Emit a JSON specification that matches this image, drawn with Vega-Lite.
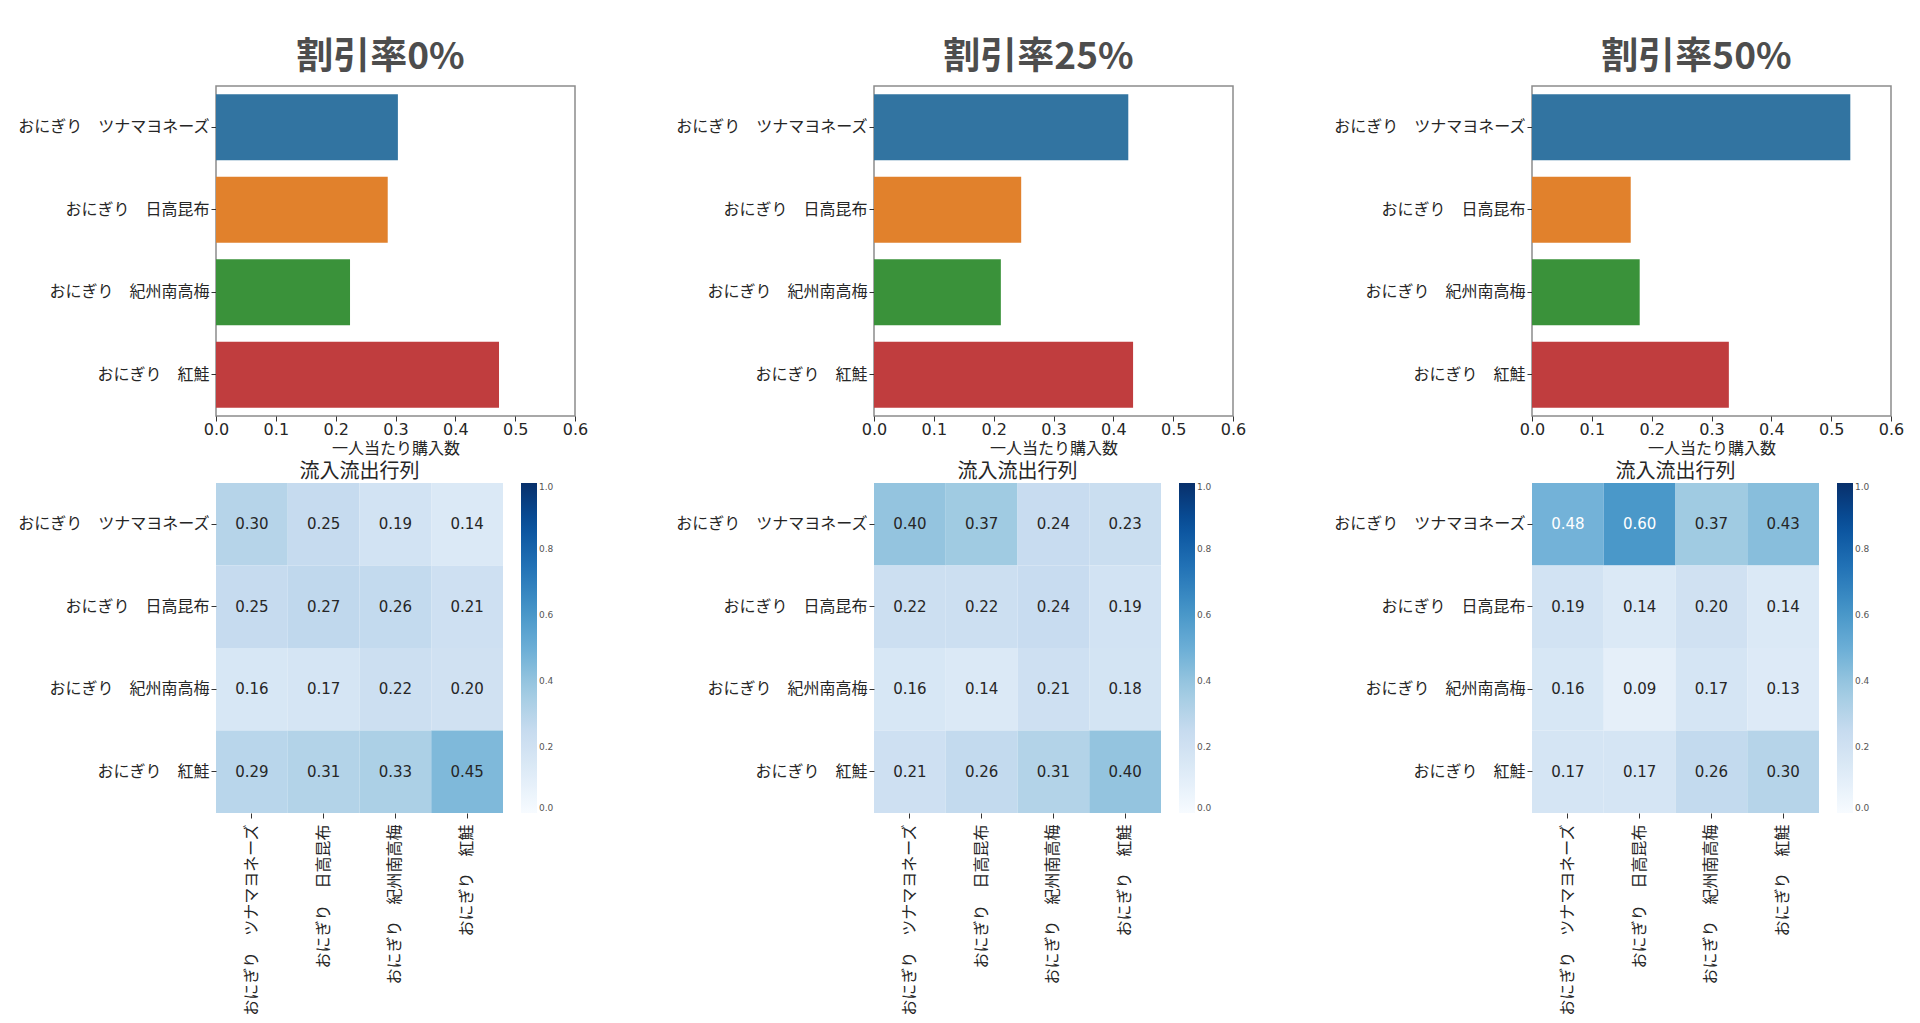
{
  "$schema": "https://vega.github.io/schema/vega-lite/v6.json",
  "padding": {"left": 16, "top": 38, "right": 8, "bottom": 5},
  "background": "white",
  "config": {
    "font": "Noto Sans CJK JP",
    "view": {"stroke": null},
    "axis": {
      "labelFontSize": 16,
      "labelColor": "#262626",
      "labelLimit": 400,
      "labelPadding": 2,
      "labelFlush": false,
      "tickColor": "#333333",
      "tickSize": 5,
      "domain": false,
      "grid": false,
      "titleFontSize": 16,
      "titleFontWeight": "normal",
      "titleColor": "#262626",
      "titlePadding": 3
    },
    "legend": {
      "labelFont": "DejaVu Sans",
      "labelFontSize": 9,
      "labelColor": "#555555",
      "gradientLength": 330,
      "gradientThickness": 16,
      "gradientStrokeWidth": 0,
      "offset": 18
    }
  },
  "datasets": {
    "bars": [
      {"discount": "0%", "item": "おにぎり　ツナマヨネーズ", "value": 0.304},
      {"discount": "0%", "item": "おにぎり　日高昆布", "value": 0.287},
      {"discount": "0%", "item": "おにぎり　紀州南高梅", "value": 0.224},
      {"discount": "0%", "item": "おにぎり　紅鮭", "value": 0.473},
      {"discount": "25%", "item": "おにぎり　ツナマヨネーズ", "value": 0.425},
      {"discount": "25%", "item": "おにぎり　日高昆布", "value": 0.246},
      {"discount": "25%", "item": "おにぎり　紀州南高梅", "value": 0.212},
      {"discount": "25%", "item": "おにぎり　紅鮭", "value": 0.433},
      {"discount": "50%", "item": "おにぎり　ツナマヨネーズ", "value": 0.532},
      {"discount": "50%", "item": "おにぎり　日高昆布", "value": 0.165},
      {"discount": "50%", "item": "おにぎり　紀州南高梅", "value": 0.180},
      {"discount": "50%", "item": "おにぎり　紅鮭", "value": 0.329}
    ],
    "flows": [
      {"discount": "0%", "row": "おにぎり　ツナマヨネーズ", "col": "おにぎり　ツナマヨネーズ", "v": 0.30},
      {"discount": "0%", "row": "おにぎり　ツナマヨネーズ", "col": "おにぎり　日高昆布", "v": 0.25},
      {"discount": "0%", "row": "おにぎり　ツナマヨネーズ", "col": "おにぎり　紀州南高梅", "v": 0.19},
      {"discount": "0%", "row": "おにぎり　ツナマヨネーズ", "col": "おにぎり　紅鮭", "v": 0.14},
      {"discount": "0%", "row": "おにぎり　日高昆布", "col": "おにぎり　ツナマヨネーズ", "v": 0.25},
      {"discount": "0%", "row": "おにぎり　日高昆布", "col": "おにぎり　日高昆布", "v": 0.27},
      {"discount": "0%", "row": "おにぎり　日高昆布", "col": "おにぎり　紀州南高梅", "v": 0.26},
      {"discount": "0%", "row": "おにぎり　日高昆布", "col": "おにぎり　紅鮭", "v": 0.21},
      {"discount": "0%", "row": "おにぎり　紀州南高梅", "col": "おにぎり　ツナマヨネーズ", "v": 0.16},
      {"discount": "0%", "row": "おにぎり　紀州南高梅", "col": "おにぎり　日高昆布", "v": 0.17},
      {"discount": "0%", "row": "おにぎり　紀州南高梅", "col": "おにぎり　紀州南高梅", "v": 0.22},
      {"discount": "0%", "row": "おにぎり　紀州南高梅", "col": "おにぎり　紅鮭", "v": 0.20},
      {"discount": "0%", "row": "おにぎり　紅鮭", "col": "おにぎり　ツナマヨネーズ", "v": 0.29},
      {"discount": "0%", "row": "おにぎり　紅鮭", "col": "おにぎり　日高昆布", "v": 0.31},
      {"discount": "0%", "row": "おにぎり　紅鮭", "col": "おにぎり　紀州南高梅", "v": 0.33},
      {"discount": "0%", "row": "おにぎり　紅鮭", "col": "おにぎり　紅鮭", "v": 0.45},
      {"discount": "25%", "row": "おにぎり　ツナマヨネーズ", "col": "おにぎり　ツナマヨネーズ", "v": 0.40},
      {"discount": "25%", "row": "おにぎり　ツナマヨネーズ", "col": "おにぎり　日高昆布", "v": 0.37},
      {"discount": "25%", "row": "おにぎり　ツナマヨネーズ", "col": "おにぎり　紀州南高梅", "v": 0.24},
      {"discount": "25%", "row": "おにぎり　ツナマヨネーズ", "col": "おにぎり　紅鮭", "v": 0.23},
      {"discount": "25%", "row": "おにぎり　日高昆布", "col": "おにぎり　ツナマヨネーズ", "v": 0.22},
      {"discount": "25%", "row": "おにぎり　日高昆布", "col": "おにぎり　日高昆布", "v": 0.22},
      {"discount": "25%", "row": "おにぎり　日高昆布", "col": "おにぎり　紀州南高梅", "v": 0.24},
      {"discount": "25%", "row": "おにぎり　日高昆布", "col": "おにぎり　紅鮭", "v": 0.19},
      {"discount": "25%", "row": "おにぎり　紀州南高梅", "col": "おにぎり　ツナマヨネーズ", "v": 0.16},
      {"discount": "25%", "row": "おにぎり　紀州南高梅", "col": "おにぎり　日高昆布", "v": 0.14},
      {"discount": "25%", "row": "おにぎり　紀州南高梅", "col": "おにぎり　紀州南高梅", "v": 0.21},
      {"discount": "25%", "row": "おにぎり　紀州南高梅", "col": "おにぎり　紅鮭", "v": 0.18},
      {"discount": "25%", "row": "おにぎり　紅鮭", "col": "おにぎり　ツナマヨネーズ", "v": 0.21},
      {"discount": "25%", "row": "おにぎり　紅鮭", "col": "おにぎり　日高昆布", "v": 0.26},
      {"discount": "25%", "row": "おにぎり　紅鮭", "col": "おにぎり　紀州南高梅", "v": 0.31},
      {"discount": "25%", "row": "おにぎり　紅鮭", "col": "おにぎり　紅鮭", "v": 0.40},
      {"discount": "50%", "row": "おにぎり　ツナマヨネーズ", "col": "おにぎり　ツナマヨネーズ", "v": 0.48},
      {"discount": "50%", "row": "おにぎり　ツナマヨネーズ", "col": "おにぎり　日高昆布", "v": 0.60},
      {"discount": "50%", "row": "おにぎり　ツナマヨネーズ", "col": "おにぎり　紀州南高梅", "v": 0.37},
      {"discount": "50%", "row": "おにぎり　ツナマヨネーズ", "col": "おにぎり　紅鮭", "v": 0.43},
      {"discount": "50%", "row": "おにぎり　日高昆布", "col": "おにぎり　ツナマヨネーズ", "v": 0.19},
      {"discount": "50%", "row": "おにぎり　日高昆布", "col": "おにぎり　日高昆布", "v": 0.14},
      {"discount": "50%", "row": "おにぎり　日高昆布", "col": "おにぎり　紀州南高梅", "v": 0.20},
      {"discount": "50%", "row": "おにぎり　日高昆布", "col": "おにぎり　紅鮭", "v": 0.14},
      {"discount": "50%", "row": "おにぎり　紀州南高梅", "col": "おにぎり　ツナマヨネーズ", "v": 0.16},
      {"discount": "50%", "row": "おにぎり　紀州南高梅", "col": "おにぎり　日高昆布", "v": 0.09},
      {"discount": "50%", "row": "おにぎり　紀州南高梅", "col": "おにぎり　紀州南高梅", "v": 0.17},
      {"discount": "50%", "row": "おにぎり　紀州南高梅", "col": "おにぎり　紅鮭", "v": 0.13},
      {"discount": "50%", "row": "おにぎり　紅鮭", "col": "おにぎり　ツナマヨネーズ", "v": 0.17},
      {"discount": "50%", "row": "おにぎり　紅鮭", "col": "おにぎり　日高昆布", "v": 0.17},
      {"discount": "50%", "row": "おにぎり　紅鮭", "col": "おにぎり　紀州南高梅", "v": 0.26},
      {"discount": "50%", "row": "おにぎり　紅鮭", "col": "おにぎり　紅鮭", "v": 0.30}
    ]
  },
  "resolve": {"scale": {"color": "independent"}, "legend": {"color": "independent"}},
  "spacing": 85,
  "hconcat": [
    {
      "spacing": 5,
      "resolve": {"scale": {"color": "independent"}, "legend": {"color": "independent"}},
      "vconcat": [
        {
          "title": {"text": "割引率0%", "fontSize": 37, "fontWeight": "bold", "color": "#4d4d4d", "anchor": "middle", "dx": -15, "offset": 9},
          "width": 359,
          "height": 330,
          "view": {"stroke": "#8c8c8c", "strokeWidth": 1.5},
          "data": {"name": "bars"},
          "transform": [{"filter": "datum.discount === '0%'"}],
          "mark": "bar",
          "encoding": {
            "y": {"field": "item", "type": "nominal", "sort": ["おにぎり　ツナマヨネーズ", "おにぎり　日高昆布", "おにぎり　紀州南高梅", "おにぎり　紅鮭"], "scale": {"paddingInner": 0.2, "paddingOuter": 0.1}, "axis": {"title": null}},
            "x": {"field": "value", "type": "quantitative", "scale": {"domain": [0, 0.6], "nice": false}, "axis": {"title": "一人当たり購入数", "values": [0, 0.1, 0.2, 0.3, 0.4, 0.5, 0.6], "format": ".1f", "labelFont": "DejaVu Sans", "labelFontSize": 16, "labelPadding": 0}},
            "color": {"field": "item", "type": "nominal", "scale": {"domain": ["おにぎり　ツナマヨネーズ", "おにぎり　日高昆布", "おにぎり　紀州南高梅", "おにぎり　紅鮭"], "range": ["#3274a1", "#e1812c", "#3a923a", "#c03d3e"]}, "legend": null}
          }
        },
        {
          "title": {"text": "流入流出行列", "fontSize": 20, "fontWeight": "normal", "color": "#262626", "offset": 1},
          "width": 287,
          "height": 330,
          "data": {"name": "flows"},
          "transform": [{"filter": "datum.discount === '0%'"}],
          "encoding": {
            "x": {"field": "col", "type": "nominal", "sort": ["おにぎり　ツナマヨネーズ", "おにぎり　日高昆布", "おにぎり　紀州南高梅", "おにぎり　紅鮭"], "axis": {"title": null, "labelAngle": 270, "labelPadding": 6}},
            "y": {"field": "row", "type": "nominal", "sort": ["おにぎり　ツナマヨネーズ", "おにぎり　日高昆布", "おにぎり　紀州南高梅", "おにぎり　紅鮭"], "axis": {"title": null}}
          },
          "layer": [
            {
              "mark": "rect",
              "encoding": {
                "color": {"field": "v", "type": "quantitative", "scale": {"domain": [0, 0.125, 0.25, 0.375, 0.5, 0.625, 0.75, 0.875, 1], "range": ["#f7fbff", "#deebf7", "#c6dbef", "#9ecae1", "#6baed6", "#4292c6", "#2171b5", "#08519c", "#08306b"], "interpolate": "rgb"}, "legend": {"title": null, "values": [0, 0.2, 0.4, 0.6, 0.8, 1], "format": ".1f"}}
              }
            },
            {
              "mark": {"type": "text", "font": "DejaVu Sans", "fontSize": 15},
              "encoding": {
                "text": {"field": "v", "type": "quantitative", "format": ".2f"},
                "color": {"condition": {"test": "datum.v > 0.46", "value": "white"}, "value": "#262626"}
              }
            }
          ]
        }
      ]
    },
    {
      "spacing": 5,
      "resolve": {"scale": {"color": "independent"}, "legend": {"color": "independent"}},
      "vconcat": [
        {
          "title": {"text": "割引率25%", "fontSize": 37, "fontWeight": "bold", "color": "#4d4d4d", "anchor": "middle", "dx": -15, "offset": 9},
          "width": 359,
          "height": 330,
          "view": {"stroke": "#8c8c8c", "strokeWidth": 1.5},
          "data": {"name": "bars"},
          "transform": [{"filter": "datum.discount === '25%'"}],
          "mark": "bar",
          "encoding": {
            "y": {"field": "item", "type": "nominal", "sort": ["おにぎり　ツナマヨネーズ", "おにぎり　日高昆布", "おにぎり　紀州南高梅", "おにぎり　紅鮭"], "scale": {"paddingInner": 0.2, "paddingOuter": 0.1}, "axis": {"title": null}},
            "x": {"field": "value", "type": "quantitative", "scale": {"domain": [0, 0.6], "nice": false}, "axis": {"title": "一人当たり購入数", "values": [0, 0.1, 0.2, 0.3, 0.4, 0.5, 0.6], "format": ".1f", "labelFont": "DejaVu Sans", "labelFontSize": 16, "labelPadding": 0}},
            "color": {"field": "item", "type": "nominal", "scale": {"domain": ["おにぎり　ツナマヨネーズ", "おにぎり　日高昆布", "おにぎり　紀州南高梅", "おにぎり　紅鮭"], "range": ["#3274a1", "#e1812c", "#3a923a", "#c03d3e"]}, "legend": null}
          }
        },
        {
          "title": {"text": "流入流出行列", "fontSize": 20, "fontWeight": "normal", "color": "#262626", "offset": 1},
          "width": 287,
          "height": 330,
          "data": {"name": "flows"},
          "transform": [{"filter": "datum.discount === '25%'"}],
          "encoding": {
            "x": {"field": "col", "type": "nominal", "sort": ["おにぎり　ツナマヨネーズ", "おにぎり　日高昆布", "おにぎり　紀州南高梅", "おにぎり　紅鮭"], "axis": {"title": null, "labelAngle": 270, "labelPadding": 6}},
            "y": {"field": "row", "type": "nominal", "sort": ["おにぎり　ツナマヨネーズ", "おにぎり　日高昆布", "おにぎり　紀州南高梅", "おにぎり　紅鮭"], "axis": {"title": null}}
          },
          "layer": [
            {
              "mark": "rect",
              "encoding": {
                "color": {"field": "v", "type": "quantitative", "scale": {"domain": [0, 0.125, 0.25, 0.375, 0.5, 0.625, 0.75, 0.875, 1], "range": ["#f7fbff", "#deebf7", "#c6dbef", "#9ecae1", "#6baed6", "#4292c6", "#2171b5", "#08519c", "#08306b"], "interpolate": "rgb"}, "legend": {"title": null, "values": [0, 0.2, 0.4, 0.6, 0.8, 1], "format": ".1f"}}
              }
            },
            {
              "mark": {"type": "text", "font": "DejaVu Sans", "fontSize": 15},
              "encoding": {
                "text": {"field": "v", "type": "quantitative", "format": ".2f"},
                "color": {"condition": {"test": "datum.v > 0.46", "value": "white"}, "value": "#262626"}
              }
            }
          ]
        }
      ]
    },
    {
      "spacing": 5,
      "resolve": {"scale": {"color": "independent"}, "legend": {"color": "independent"}},
      "vconcat": [
        {
          "title": {"text": "割引率50%", "fontSize": 37, "fontWeight": "bold", "color": "#4d4d4d", "anchor": "middle", "dx": -15, "offset": 9},
          "width": 359,
          "height": 330,
          "view": {"stroke": "#8c8c8c", "strokeWidth": 1.5},
          "data": {"name": "bars"},
          "transform": [{"filter": "datum.discount === '50%'"}],
          "mark": "bar",
          "encoding": {
            "y": {"field": "item", "type": "nominal", "sort": ["おにぎり　ツナマヨネーズ", "おにぎり　日高昆布", "おにぎり　紀州南高梅", "おにぎり　紅鮭"], "scale": {"paddingInner": 0.2, "paddingOuter": 0.1}, "axis": {"title": null}},
            "x": {"field": "value", "type": "quantitative", "scale": {"domain": [0, 0.6], "nice": false}, "axis": {"title": "一人当たり購入数", "values": [0, 0.1, 0.2, 0.3, 0.4, 0.5, 0.6], "format": ".1f", "labelFont": "DejaVu Sans", "labelFontSize": 16, "labelPadding": 0}},
            "color": {"field": "item", "type": "nominal", "scale": {"domain": ["おにぎり　ツナマヨネーズ", "おにぎり　日高昆布", "おにぎり　紀州南高梅", "おにぎり　紅鮭"], "range": ["#3274a1", "#e1812c", "#3a923a", "#c03d3e"]}, "legend": null}
          }
        },
        {
          "title": {"text": "流入流出行列", "fontSize": 20, "fontWeight": "normal", "color": "#262626", "offset": 1},
          "width": 287,
          "height": 330,
          "data": {"name": "flows"},
          "transform": [{"filter": "datum.discount === '50%'"}],
          "encoding": {
            "x": {"field": "col", "type": "nominal", "sort": ["おにぎり　ツナマヨネーズ", "おにぎり　日高昆布", "おにぎり　紀州南高梅", "おにぎり　紅鮭"], "axis": {"title": null, "labelAngle": 270, "labelPadding": 6}},
            "y": {"field": "row", "type": "nominal", "sort": ["おにぎり　ツナマヨネーズ", "おにぎり　日高昆布", "おにぎり　紀州南高梅", "おにぎり　紅鮭"], "axis": {"title": null}}
          },
          "layer": [
            {
              "mark": "rect",
              "encoding": {
                "color": {"field": "v", "type": "quantitative", "scale": {"domain": [0, 0.125, 0.25, 0.375, 0.5, 0.625, 0.75, 0.875, 1], "range": ["#f7fbff", "#deebf7", "#c6dbef", "#9ecae1", "#6baed6", "#4292c6", "#2171b5", "#08519c", "#08306b"], "interpolate": "rgb"}, "legend": {"title": null, "values": [0, 0.2, 0.4, 0.6, 0.8, 1], "format": ".1f"}}
              }
            },
            {
              "mark": {"type": "text", "font": "DejaVu Sans", "fontSize": 15},
              "encoding": {
                "text": {"field": "v", "type": "quantitative", "format": ".2f"},
                "color": {"condition": {"test": "datum.v > 0.46", "value": "white"}, "value": "#262626"}
              }
            }
          ]
        }
      ]
    }
  ]
}
